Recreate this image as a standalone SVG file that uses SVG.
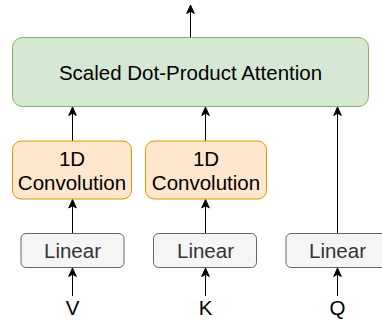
<svg xmlns="http://www.w3.org/2000/svg" width="382" height="320" viewBox="0 0 382 320">
<defs>
<marker id="arr" markerWidth="10" markerHeight="10" viewBox="0 0 10 10" refX="9" refY="5" orient="auto" markerUnits="userSpaceOnUse">
<path d="M0.5,1.2 L9,5 L0.5,8.8 L2.8,5 Z" fill="#000" stroke="#000" stroke-width="1"/>
</marker>
<style>
text{font-family:"Liberation Sans",Arial,Helvetica,sans-serif;font-size:20.5px;text-anchor:middle;fill:#000}
.green{fill:#d5e8d4;stroke:#82b366;stroke-width:1}
.orange{fill:#ffe6cc;stroke:#d79b00;stroke-width:1}
.gray{fill:#f5f5f5;stroke:#666666;stroke-width:1}
.gt{fill:#333333}
.edge{stroke:#000;stroke-width:1;fill:none;marker-end:url(#arr)}
</style>
</defs>
<g id="connectors">
<path class="edge" d="M190.5,37.5 L190.5,5"/>
<path class="edge" d="M72.5,141 L72.5,107"/>
<path class="edge" d="M205.5,141 L205.5,107"/>
<path class="edge" d="M337.5,233 L337.5,107"/>
<path class="edge" d="M72.5,233 L72.5,199.5"/>
<path class="edge" d="M205.5,233 L205.5,199.5"/>
<path class="edge" d="M72.5,296 L72.5,268"/>
<path class="edge" d="M205.5,296 L205.5,268"/>
<path class="edge" d="M337.5,296 L337.5,268"/>
</g>
<g id="attention">
<rect class="green" x="12.5" y="37.5" width="356" height="69" rx="10"/>
<text x="190.5" y="80">Scaled Dot-Product Attention</text>
</g>
<g id="conv-v">
<rect class="orange" x="12.5" y="141" width="119" height="58" rx="8.7"/>
<text x="72" y="166">1D</text>
<text x="72" y="190">Convolution</text>
</g>
<g id="conv-k">
<rect class="orange" x="145.5" y="141" width="121" height="58" rx="8.7"/>
<text x="206" y="166">1D</text>
<text x="206" y="190">Convolution</text>
</g>
<g id="linear-v">
<rect class="gray" x="21" y="233.5" width="103" height="34" rx="5"/>
<text class="gt" x="72.5" y="258">Linear</text>
</g>
<g id="linear-k">
<rect class="gray" x="153.5" y="233.5" width="103" height="34" rx="5"/>
<text class="gt" x="205.5" y="258">Linear</text>
</g>
<g id="linear-q">
<rect class="gray" x="286" y="233.5" width="103" height="34" rx="5"/>
<text class="gt" x="337.5" y="258">Linear</text>
</g>
<g id="label-v"><text x="72.5" y="315">V</text></g>
<g id="label-k"><text x="205.5" y="315">K</text></g>
<g id="label-q"><text x="337.5" y="315">Q</text></g>
</svg>
